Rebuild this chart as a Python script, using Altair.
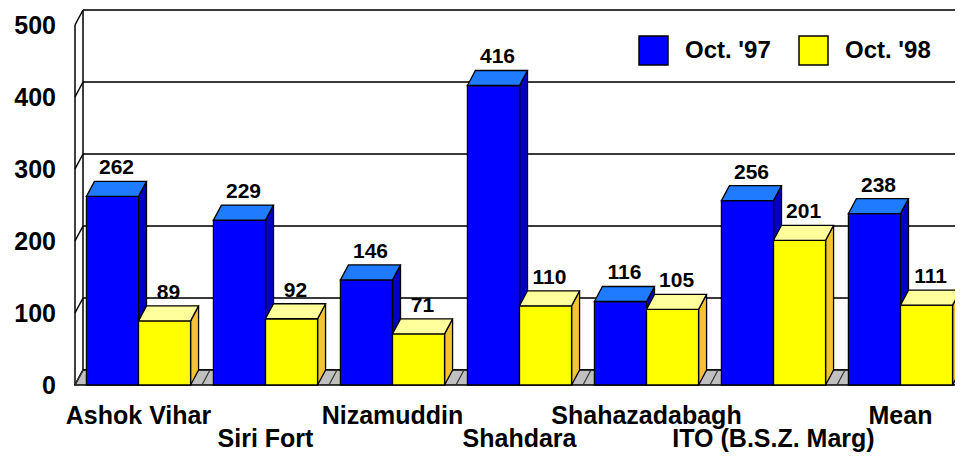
import altair as alt
import pandas as pd

# ---- data ----
sites = ["Ashok Vihar", "Siri Fort", "Nizamuddin", "Shahdara",
         "Shahazadabagh", "ITO (B.S.Z. Marg)", "Mean"]
oct97 = [262, 229, 146, 416, 116, 256, 238]
oct98 = [89, 92, 71, 110, 105, 201, 111]
series_names = ["Oct. '97", "Oct. '98"]
y_ticks = [0, 100, 200, 300, 400, 500]

# ---- geometry / style ----
PX_X = 127.0
W, H = 880, 375
XMIN = -0.5
XMAX = XMIN + W / PX_X
XEND = 6.5                # logical right end of the floor / back wall
PX_Y = 0.72
YMAX = H / PX_Y
DX = 8 / PX_X          # 3-D depth in x units
DY = 15 / PX_Y         # 3-D depth in y units
BAR_W = 0.41
FONT = "Liberation Sans"

FRONT = ["#0000ff", "#ffff00"]
TOP = ["#1f7bff", "#ffff9c"]
SIDE = ["#0000c4", "#f3c333"]

xs = alt.Scale(domain=[XMIN, XMAX], nice=False, zero=False)
ys = alt.Scale(domain=[0, YMAX], nice=False, zero=False)

rows = []
for i, s in enumerate(sites):
    for k, vals in enumerate([oct97, oct98]):
        x0 = i - BAR_W + k * BAR_W
        rows.append(dict(site=s, idx=i, series=series_names[k], k=k,
                         bid=f"{i}-{k}", x0=x0, x1=x0 + BAR_W, v=vals[i], base=0,
                         xc=(x0 + x0 + BAR_W) / 2 + DX / 2, vt=vals[i] + DY))
bars = pd.DataFrame(rows)

side_rows, top_rows = [], []
for r in rows:
    side_rows += [dict(bid=r["bid"], k=r["k"], x=r["x1"], y=r["v"], y2=0),
                  dict(bid=r["bid"], k=r["k"], x=r["x1"] + DX, y=r["v"] + DY, y2=DY)]
    top_rows += [dict(bid=r["bid"], k=r["k"], x=r["x0"], y=r["v"], y2=r["v"]),
                 dict(bid=r["bid"], k=r["k"], x=r["x0"] + DX, y=r["v"] + DY, y2=r["v"]),
                 dict(bid=r["bid"], k=r["k"], x=r["x1"], y=r["v"] + DY, y2=r["v"]),
                 dict(bid=r["bid"], k=r["k"], x=r["x1"] + DX, y=r["v"] + DY, y2=r["v"] + DY)]
side_df = pd.DataFrame(side_rows)
top_df = pd.DataFrame(top_rows)

floor_df = pd.DataFrame([
    dict(x=XMIN, y=0, y2=0), dict(x=XMIN + DX, y=DY, y2=0),
    dict(x=XEND, y=DY, y2=0), dict(x=XEND + DX, y=DY, y2=DY)])
floor_lines = pd.DataFrame([dict(x=i + 0.5, x2=i + 0.5 + DX, y=0, y2=DY) for i in range(-1, 7)])

grid_df = pd.DataFrame([dict(x=XMIN + DX, x2=XEND + DX, y=t + DY, y2=t + DY) for t in y_ticks])
wall_ticks = pd.DataFrame([dict(x=XMIN, x2=XMIN + DX, y=t, y2=t + DY) for t in y_ticks])
edges_df = pd.DataFrame([dict(x=XMIN, x2=XMIN, y=0, y2=500),
                         dict(x=XMIN + DX, x2=XMIN + DX, y=DY, y2=500 + DY)])

labels_df = pd.DataFrame(dict(site=sites, idx=list(range(len(sites)))))
labels_df["row"] = labels_df["idx"] % 2
labels_df["base"] = 0
ticks_df = pd.DataFrame(dict(t=y_ticks))
ticks_df["x"] = XMIN


def seg(df, color="#333333", width=2):
    return alt.Chart(df).mark_rule(color=color, strokeWidth=width).encode(
        x=alt.X("x:Q", scale=xs, axis=None), x2="x2:Q",
        y=alt.Y("y:Q", scale=ys, axis=None), y2="y2:Q")


# y tick labels, at the front plane
ylabels = alt.Chart(ticks_df).mark_text(
    font=FONT, fontSize=25, fontWeight="bold", align="right", baseline="middle",
    dx=-19, dy=1, color="black").encode(
    x=alt.X("x:Q", scale=xs, axis=None), y=alt.Y("t:Q", scale=ys, axis=None),
    text="t:Q")

grid = seg(grid_df, "#3a3a3a", 2.2)
edges = seg(edges_df, "#000000", 1.5)
wticks = seg(wall_ticks, "#000000", 1.5)

floor = alt.Chart(floor_df).mark_area(
    orient="vertical", color="#c0c0c0", stroke="black", strokeWidth=1.5,
    interpolate="linear").encode(
    x=alt.X("x:Q", scale=xs, axis=None),
    y=alt.Y("y:Q", scale=ys, axis=None, stack=None), y2="y2:Q")
flines = seg(floor_lines, "#333333", 1.2)


def faces(df, colors, k):
    return alt.Chart(df).transform_filter(alt.datum.k == k).mark_area(
        orient="vertical", stroke="black", strokeWidth=1.3, interpolate="linear",
        fill=colors[k], opacity=1).encode(
        x=alt.X("x:Q", scale=xs, axis=None),
        y=alt.Y("y:Q", scale=ys, axis=None, stack=None), y2="y2:Q",
        detail="bid:N")


def fronts(k):
    return alt.Chart(bars).transform_filter(alt.datum.k == k).mark_rect(
        stroke="black", strokeWidth=1.3).encode(
        x=alt.X("x0:Q", scale=xs, axis=None), x2="x1:Q",
        y=alt.Y("v:Q", scale=ys, axis=None), y2="base:Q",
        color=alt.Color("series:N",
                        scale=alt.Scale(domain=series_names, range=FRONT),
                        legend=alt.Legend(
                            title=None, orient="none", legendX=563, legendY=25,
                            direction="horizontal", symbolType="square",
                            symbolSize=841, symbolStrokeColor="black",
                            symbolStrokeWidth=1.5, symbolOpacity=1,
                            labelFont=FONT, labelFontSize=24, labelFontWeight="bold",
                            labelColor="black", labelOffset=16, columnPadding=25,
                            padding=0)))


values = alt.Chart(bars).mark_text(
    font=FONT, fontSize=21, fontWeight="bold", baseline="alphabetic", dy=-7,
    color="black").encode(
    x=alt.X("xc:Q", scale=xs, axis=None),
    y=alt.Y("vt:Q", scale=ys, axis=None),
    text="v:Q")


def xlabels(row, dy):
    return alt.Chart(labels_df).transform_filter(alt.datum.row == row).mark_text(
        font=FONT, fontSize=25, fontWeight="bold", baseline="alphabetic", dy=dy,
        color="black").encode(
        x=alt.X("idx:Q", scale=xs, axis=None),
        y=alt.Y("base:Q", scale=ys, axis=None), text="site:N")


chart = alt.layer(
    grid, edges, wticks, floor, flines,
    faces(side_df, SIDE, 0), fronts(0), faces(top_df, TOP, 0),
    faces(side_df, SIDE, 1), fronts(1), faces(top_df, TOP, 1),
    values, ylabels, xlabels(0, 39), xlabels(1, 62)
).properties(
    width=W, height=H,
    autosize=alt.AutoSizeParams(type="none"),
    padding={"left": 67, "top": 2, "right": 0, "bottom": 68},
    background="white"
).configure_view(stroke=None)

chart.save("out.html", embed_options={"renderer": "svg", "actions": False})
